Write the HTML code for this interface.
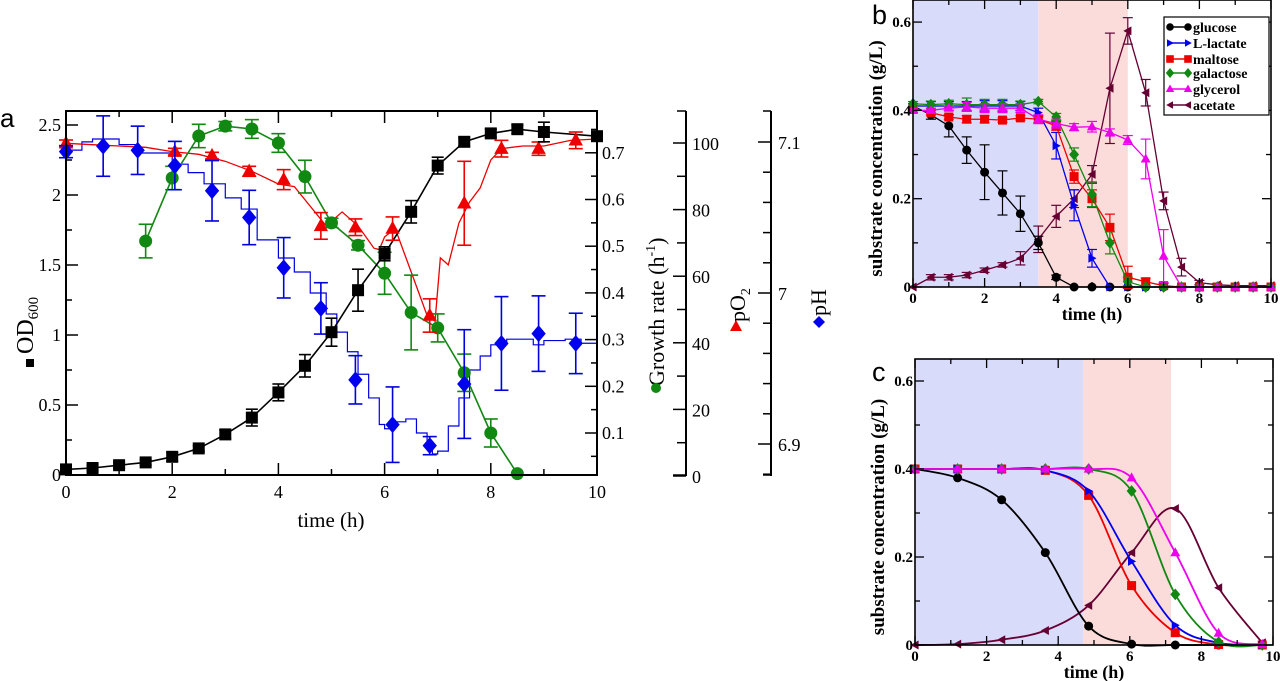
<!DOCTYPE html>
<html><head><meta charset="utf-8"><style>
html,body{margin:0;padding:0;background:#fff;}
svg{display:block;}
text{font-family:"Liberation Serif",serif;}
</style></head><body>
<svg id="fig" width="1280" height="681" viewBox="0 0 1280 681" xmlns="http://www.w3.org/2000/svg">
<g id="pa"></g>
<g id="pb"></g>
<g id="pc"></g>
</svg>
<script>
// ===== Panel a data =====
const odTime=[0,0.5,1,1.5,2,2.5,3,3.5,4,4.5,5,5.5,6,6.5,7,7.5,8,8.5,9,10];
const odVal=[0.04,0.05,0.07,0.09,0.13,0.19,0.29,0.41,0.59,0.78,1.02,1.32,1.58,1.88,2.21,2.38,2.44,2.47,2.45,2.42];
const odErr=[0.02,0.02,0.02,0.02,0.03,0.02,0.03,0.06,0.06,0.08,0.1,0.15,0.05,0.08,0.06,0.03,0.03,0.03,0.07,0.03];
const grTime=[1.5,2,2.5,3,3.5,4,4.5,5,5.5,6,6.5,7,7.5,8,8.5];
const grVal=[0.511,0.646,0.736,0.757,0.751,0.721,0.649,0.550,0.502,0.442,0.358,0.325,0.229,0.100,0.013];
const grErr=[0.036,0.025,0.025,0.01,0.02,0.02,0.035,0.01,0.01,0.045,0.08,0.03,0.04,0.03,0];
const po2MarkTime=[0,2.05,2.75,3.45,4.1,4.8,5.45,6.15,6.85,7.5,8.2,8.9,9.6];
const po2MarkVal=[99.9,97.4,96.2,91.5,89.0,75.1,74.7,74.3,48.2,81.9,98.3,98.3,100.8];
const po2MarkErr=[1,1,1,1.5,3,4,2.5,3.5,5,12.6,2.5,2,2.5];
const po2LineTime=[0,0.5,1,1.5,2,2.5,3,3.5,4,4.3,4.6,4.9,5.2,5.5,5.8,5.9,6.0,6.2,6.5,6.8,6.95,7.05,7.2,7.4,7.6,7.8,8.0,8.2,8.6,9,9.5,10];
const po2LineVal=[99.9,99.5,99.1,98.7,97.4,96.6,94.5,91.5,87.7,86.9,81.0,75.1,79.3,75.1,68.4,68.0,71.8,74.3,61.3,48.2,46.5,65.5,63.4,76.0,82.3,86.5,94.9,98.3,99.1,99.1,100.8,101.2];
const phMarkTime=[0,0.7,1.35,2.05,2.75,3.45,4.1,4.8,5.45,6.15,6.85,7.5,8.2,8.9,9.6];
const phMarkVal=[7.0936,7.0973,7.0945,7.0844,7.0677,7.0500,7.0167,6.9898,6.9425,6.9128,6.8989,6.9397,6.9666,6.9731,6.9666];
const phMarkErr=[0.004,0.02,0.016,0.016,0.02,0.018,0.02,0.017,0.016,0.025,0.006,0.036,0.031,0.025,0.02];
const phLineTime=[0,0.3,0.5,1,1.3,1.6,2,2.3,2.6,3,3.3,3.6,4,4.3,4.6,4.9,5.1,5.3,5.5,5.7,5.9,6.0,6.2,6.4,6.6,6.8,6.9,7.0,7.2,7.4,7.6,7.8,8.0,8.3,8.6,8.8,9.0,9.4,9.7,10];
const phLineVal=[7.0946,7.1001,7.1020,7.0983,7.0927,7.0927,7.0853,7.0797,7.0723,7.0630,7.0556,7.0352,7.0232,7.0139,7.0000,6.9861,6.9741,6.9611,6.9462,6.9305,6.9129,6.9101,6.9147,6.9166,6.9073,6.8999,6.8934,6.8953,6.9119,6.9305,6.9490,6.9583,6.9657,6.9694,6.9694,6.9657,6.9685,6.9694,6.9667,6.9676];
const aXTicks=[0,2,4,6,8,10];
const aYTicks=[0,0.5,1,1.5,2,2.5];
const aYTickLabels=['0','0.5','1','1.5','2','2.5'];
const grTicks=[0.1,0.2,0.3,0.4,0.5,0.6,0.7];
const po2Ticks=[0,20,40,60,80,100];
const phTicks=[6.9,7,7.1];

// ===== Panel b data =====
const bTime=[0,0.5,1,1.5,2,2.5,3,3.5,4,4.5,5,5.5,6,6.5,7,7.5,8,8.5,9,9.5,10];
const bGlucose=[0.41,0.39,0.365,0.31,0.26,0.213,0.166,0.10,0.022,0,0,0,0,0,0,0,0,0,0,0,0];
const bGlucoseErr=[0.005,0.01,0.025,0.03,0.062,0.05,0.04,0.015,0.005,0,0,0,0,0,0,0,0,0,0,0,0];
const bLactate=[0.41,0.41,0.41,0.41,0.41,0.41,0.41,0.395,0.32,0.185,0.065,0,0,0,0,0,0,0,0,0,0];
const bLactateErr=[0.005,0.01,0.01,0.01,0.012,0.012,0.01,0.01,0.03,0.035,0.02,0,0,0,0,0,0,0,0,0,0];
const bMaltose=[0.405,0.395,0.385,0.38,0.38,0.378,0.383,0.38,0.365,0.25,0.20,0.135,0.022,0.012,0.003,0,0,0,0,0,0];
const bMaltoseErr=[0.005,0.005,0.005,0.008,0.008,0.005,0.005,0.008,0.01,0.015,0.02,0.03,0.025,0.008,0.005,0,0,0,0,0,0];
const bGalactose=[0.415,0.413,0.415,0.413,0.413,0.413,0.413,0.42,0.385,0.30,0.21,0.10,0.012,0,0,0,0,0,0,0,0];
const bGalactoseErr=[0.005,0.008,0.008,0.015,0.012,0.012,0.008,0.005,0.008,0.015,0.028,0.025,0.01,0,0,0,0,0,0,0,0];
const bGlycerol=[0.40,0.40,0.405,0.408,0.405,0.405,0.405,0.38,0.37,0.362,0.363,0.35,0.333,0.29,0.07,0,0,0,0,0,0];
const bGlycerolErr=[0.005,0.005,0.005,0.01,0.01,0.01,0.01,0.01,0.01,0.008,0.012,0.008,0.01,0.045,0.06,0.003,0,0,0,0,0];
const bAcetate=[0,0.022,0.022,0.027,0.038,0.05,0.065,0.108,0.16,0.20,0.255,0.45,0.58,0.44,0.195,0.045,0.01,0.005,0.003,0.003,0.003];
const bAcetateErr=[0,0.006,0.006,0.006,0.005,0.005,0.015,0.03,0.025,0.02,0.02,0.125,0.03,0.03,0.02,0.02,0.005,0.003,0,0,0];

// ===== Panel c data =====
const cTime=[0,1.19,2.42,3.64,4.85,6.05,7.27,8.48,9.70];
const cGlucose=[0.40,0.38,0.33,0.21,0.043,0.002,0,0,0];
const cLactate=[0.40,0.40,0.40,0.397,0.35,0.19,0.045,0.005,0];
const cMaltose=[0.40,0.40,0.40,0.397,0.34,0.135,0.028,0.001,0];
const cGalactose=[0.40,0.40,0.40,0.40,0.40,0.35,0.115,0.007,0];
const cGlycerol=[0.40,0.40,0.40,0.40,0.40,0.38,0.21,0.027,0.001];
const cAcetate=[0,0.002,0.012,0.033,0.09,0.21,0.31,0.13,0.005];
const subTicksX=[0,2,4,6,8,10];
const subTicksY=[0,0.2,0.4,0.6];
const subTickLabelsY=['0','0.2','0.4','0.6'];

const NS='http://www.w3.org/2000/svg';
function mk(parent,tag,attrs){const e=document.createElementNS(NS,tag);for(const k in attrs)e.setAttribute(k,attrs[k]);parent.appendChild(e);return e;}
function txt(parent,x,y,s,attrs){const e=mk(parent,'text',Object.assign({x:x,y:y},attrs||{}));e.textContent=s;return e;}

function marker(g,shape,x,y,color,r){
  let e;
  if(shape==='square') e=mk(g,'rect',{x:x-r,y:y-r,width:2*r,height:2*r,fill:color});
  else if(shape==='circle') e=mk(g,'circle',{cx:x,cy:y,r:r,fill:color});
  else if(shape==='diamond') e=mk(g,'polygon',{points:`${x},${y-r*1.3} ${x+r*1.1},${y} ${x},${y+r*1.3} ${x-r*1.1},${y}`,fill:color});
  else if(shape==='up') e=mk(g,'polygon',{points:`${x},${y-r*1.2} ${x+r*1.1},${y+r*0.8} ${x-r*1.1},${y+r*0.8}`,fill:color});
  else if(shape==='right') e=mk(g,'polygon',{points:`${x+r},${y} ${x-r*0.8},${y-r} ${x-r*0.8},${y+r}`,fill:color});
  else if(shape==='left') e=mk(g,'polygon',{points:`${x-r},${y} ${x+r*0.8},${y-r} ${x+r*0.8},${y+r}`,fill:color});
  return e;
}
function errbar(g,x,y1,y2,color,w,cap){
  if(Math.abs(y2-y1)<1)return;
  mk(g,'line',{x1:x,y1:y1,x2:x,y2:y2,stroke:color,'stroke-width':w});
  mk(g,'line',{x1:x-cap,y1:y1,x2:x+cap,y2:y1,stroke:color,'stroke-width':w});
  mk(g,'line',{x1:x-cap,y1:y2,x2:x+cap,y2:y2,stroke:color,'stroke-width':w});
}
function polyPts(xs,ys,sx,sy){return xs.map((t,i)=>sx(t)+','+sy(ys[i])).join(' ');}

// ================= PANEL A =================
(function(){
const g=document.getElementById('pa');
const L=66,R=597,T=111,B=475;
const sx=t=>L+(t/10)*(R-L);
const sy=v=>B-(v/2.6)*(B-T);
const sgr=v=>433-(v-0.1)*467;
const spo=v=>476-v*3.33;
const sph=v=>293-(v-7)*1510;
const lbl=txt(g,0,127,'a',{style:'font-family:"Liberation Sans",sans-serif;font-size:26px'});


let d='';phLineTime.forEach((t,i)=>{const x=sx(t),y=sph(phLineVal[i]);if(i===0)d+=`M${x},${y}`;else d+=`H${x}V${y}`;});
const phl=mk(g,'path',{d:d,fill:'none',stroke:'#0000dd','stroke-width':1.2});

const pol=mk(g,'polyline',{points:polyPts(po2LineTime,po2LineVal,sx,spo),fill:'none',stroke:'#ee0000','stroke-width':1.3});

const grl=mk(g,'polyline',{points:polyPts(grTime,grVal,sx,sgr),fill:'none',stroke:'#118811','stroke-width':1.6});

const odl=mk(g,'polyline',{points:polyPts(odTime,odVal,sx,sy),fill:'none',stroke:'#000','stroke-width':1.6});


grTime.forEach((t,i)=>{const x=sx(t);errbar(g,x,sgr(grVal[i]-grErr[i]),sgr(grVal[i]+grErr[i]),'#118811',1.6,7);
  const m=marker(g,'circle',x,sgr(grVal[i]),'#118811',6.5);});
po2MarkTime.forEach((t,i)=>{const x=sx(t);errbar(g,x,spo(po2MarkVal[i]-po2MarkErr[i]),spo(po2MarkVal[i]+po2MarkErr[i]),'#ee0000',1.6,7);
  const m=marker(g,'up',x,spo(po2MarkVal[i]),'#ee0000',6.5);});
phMarkTime.forEach((t,i)=>{const x=sx(t);errbar(g,x,sph(phMarkVal[i]-phMarkErr[i]),sph(phMarkVal[i]+phMarkErr[i]),'#0000dd',1.6,7);
  const m=marker(g,'diamond',x,sph(phMarkVal[i]),'#0000ee',6.5);});
odTime.forEach((t,i)=>{const x=sx(t);errbar(g,x,sy(odVal[i]-odErr[i]),sy(odVal[i]+odErr[i]),'#000',1.6,6);
  const m=marker(g,'square',x,sy(odVal[i]),'#000',6);});

const fr=mk(g,'rect',{x:L,y:T,width:R-L,height:B-T,fill:'none',stroke:'#000','stroke-width':2});

for(let t=0;t<=10;t+=1){const x=sx(t);const len=(t%2===0)?12:6;
  mk(g,'line',{x1:x,y1:B,x2:x,y2:B-len,stroke:'#000','stroke-width':1.5});
  mk(g,'line',{x1:x,y1:T,x2:x,y2:T+len,stroke:'#000','stroke-width':1.5});}
aXTicks.forEach(t=>{const e=txt(g,sx(t),498,String(t),{'font-size':18,'text-anchor':'middle'});});
for(let v=0;v<=2.5001;v+=0.25){const y=sy(v);const len=(Math.round(v*4)%2===0)?12:6;
  mk(g,'line',{x1:L,y1:y,x2:L+len,y2:y,stroke:'#000','stroke-width':1.5});}
aYTicks.forEach((v,i)=>{const e=txt(g,L-5,sy(v)+6,aYTickLabels[i],{'font-size':18,'text-anchor':'end'});});
for(let k=1;k<=15;k++){const v=k*0.05;const y=sgr(v);if(y<T+2||y>B-2)continue;const len=(k%2===0)?12:6;
  mk(g,'line',{x1:R,y1:y,x2:R-len,y2:y,stroke:'#000','stroke-width':1.5});}
grTicks.forEach(v=>{const e=txt(g,R+5,sgr(v)+6,v.toFixed(1),{'font-size':18});});
const PX=686;
mk(g,'line',{x1:PX,y1:T,x2:PX,y2:B+1,stroke:'#000','stroke-width':2});
for(let v=0;v<=100;v+=10){const y=spo(v);const len=(v%20===0)?13:9;mk(g,'line',{x1:PX,y1:y,x2:PX-len,y2:y,stroke:'#000','stroke-width':1.5});}
mk(g,'line',{x1:PX,y1:T,x2:PX-9,y2:T,stroke:'#000','stroke-width':1.5});
mk(g,'line',{x1:PX,y1:B,x2:PX-13,y2:B,stroke:'#000','stroke-width':1.5});
po2Ticks.forEach(v=>{const e=txt(g,PX+6,spo(v)+7,String(v),{'font-size':18});});
const HX=771;
mk(g,'line',{x1:HX,y1:T,x2:HX,y2:B+1,stroke:'#000','stroke-width':2});
for(let k=0;k<=12;k++){const v=6.86+k*0.02;const y=sph(v);if(y<T-1||y>B+1)continue;const maj=Math.abs(((v-6.9)/0.1)-Math.round((v-6.9)/0.1))<0.01;const len=maj?13:8;
  mk(g,'line',{x1:HX,y1:y,x2:HX-len,y2:y,stroke:'#000','stroke-width':1.5});}
mk(g,'line',{x1:HX,y1:T,x2:HX-8,y2:T,stroke:'#000','stroke-width':1.5});
mk(g,'line',{x1:HX,y1:B,x2:HX-8,y2:B,stroke:'#000','stroke-width':1.5});
phTicks.forEach(v=>{const e=txt(g,HX+7,sph(v)+7,String(v),{'font-size':18});});

const xt=txt(g,331,527,'time (h)',{'font-size':21,'text-anchor':'middle'});
const yg=mk(g,'g',{transform:'translate(33,300) rotate(-90)'});
mk(yg,'rect',{x:-67,y:-7,width:8,height:8,fill:'#000'});
const yt=txt(yg,-54,0,'OD',{'font-size':24});const sub=mk(yt,'tspan',{'font-size':15,dy:5});sub.textContent='600';
const gg=mk(g,'g',{transform:'translate(664,300) rotate(-90)'});
const gt=txt(gg,-86,0,'Growth rate (h',{'font-size':22});const sup=mk(gt,'tspan',{'font-size':14,dy:-9});sup.textContent='-1';const cl=mk(gt,'tspan',{'font-size':22,dy:9});cl.textContent=')';
mk(g,'circle',{cx:656,cy:388,r:5,fill:'#118811'});
const pg=mk(g,'g',{transform:'translate(745,300) rotate(-90)'});
const pt=txt(pg,-22,0,'pO',{'font-size':22});const ps=mk(pt,'tspan',{'font-size':14,dy:5});ps.textContent='2';
mk(g,'polygon',{points:'736,320 742,331 730,331',fill:'#ee0000'});
const hg=mk(g,'g',{transform:'translate(826,300) rotate(-90)'});
txt(hg,-16,0,'pH',{'font-size':22});
mk(g,'polygon',{points:'819,316 825,322 819,328 813,322',fill:'#0000ee'});
})();

// ================= Panels b and c =================
const series=[
 {name:'glucose',color:'#000000',shape:'circle'},
 {name:'L-lactate',color:'#0000ee',shape:'right'},
 {name:'maltose',color:'#ee0000',shape:'square'},
 {name:'galactose',color:'#118811',shape:'diamond'},
 {name:'glycerol',color:'#ee00ee',shape:'up'},
 {name:'acetate',color:'#660033',shape:'left'}
];
function axesSub(g,L,R,T,B,ymax,shade,sx,sy){
  mk(g,'rect',{x:L,y:T,width:sx(shade[0])-L,height:B-T,fill:'#d9dbfb'});
  mk(g,'rect',{x:sx(shade[0]),y:T,width:sx(shade[1])-sx(shade[0]),height:B-T,fill:'#fbdcda'});
}
function frameSub(g,L,R,T,B,sx,sy,ymax){
  mk(g,'rect',{x:L,y:T,width:R-L,height:B-T,fill:'none',stroke:'#000','stroke-width':1.6});
  for(let t=0;t<=10;t+=1){const x=sx(t);const len=(t%2===0)?9:5;
    mk(g,'line',{x1:x,y1:B,x2:x,y2:B-len,stroke:'#000','stroke-width':1.3});
    mk(g,'line',{x1:x,y1:T,x2:x,y2:T+len,stroke:'#000','stroke-width':1.3});}
  for(let k=0;k<=6;k++){const y=sy(k*0.1);const len=(k%2===0)?9:5;
    mk(g,'line',{x1:L,y1:y,x2:L+len,y2:y,stroke:'#000','stroke-width':1.3});
    mk(g,'line',{x1:R,y1:y,x2:R-len,y2:y,stroke:'#000','stroke-width':1.3});}
  subTicksX.forEach(t=>{const e=txt(g,sx(t),B+16,String(t),{'font-size':15,'font-weight':'bold','text-anchor':'middle'});});
  subTicksY.forEach((v,i)=>{const e=txt(g,L-2,sy(v)+5,subTickLabelsY[i],{'font-size':15,'font-weight':'bold','text-anchor':'end'});});
  const xt=txt(g,(L+R)/2,B+33,'time (h)',{'font-size':18,'font-weight':'bold','text-anchor':'middle'});
  const yg=mk(g,'g',{transform:`translate(${L-31},${(T+B)/2+15}) rotate(-90)`});
  txt(yg,0,0,'substrate concentration (g/L)',{'font-size':19,'font-weight':'bold','text-anchor':'middle'});
}
function catmull(xs,ys){let d=`M${xs[0]},${ys[0]}`;for(let i=0;i<xs.length-1;i++){const x0=xs[Math.max(0,i-1)],y0=ys[Math.max(0,i-1)],x1=xs[i],y1=ys[i],x2=xs[i+1],y2=ys[i+1],x3=xs[Math.min(xs.length-1,i+2)],y3=ys[Math.min(xs.length-1,i+2)];
  d+=` C${x1+(x2-x0)/6},${y1+(y2-y0)/6} ${x2-(x3-x1)/6},${y2-(y3-y1)/6} ${x2},${y2}`;}return d;}

(function(){
const g=document.getElementById('pb');
const L=913,R=1271,T=0,B=287;
const sx=t=>L+(t/10)*(R-L);
const sy=v=>B-(v/0.65)*(B-T);
axesSub(g,L,R,T,B,0.65,[3.5,6],sx,sy);
const vals=[bGlucose,bLactate,bMaltose,bGalactose,bGlycerol,bAcetate];
const errs=[bGlucoseErr,bLactateErr,bMaltoseErr,bGalactoseErr,bGlycerolErr,bAcetateErr];
[5,0,1,2,3,4].forEach(si=>{const s=series[si];const sg=mk(g,'g',{});
  mk(sg,'polyline',{points:polyPts(bTime,vals[si],sx,sy),fill:'none',stroke:s.color,'stroke-width':1.3});
  bTime.forEach((t,i)=>{const v=vals[si][i],e=errs[si][i];errbar(sg,sx(t),sy(v-e),sy(v+e),s.color,1.2,5);
    const m=marker(sg,s.shape,sx(t),sy(v),s.color,4.5);});
});
frameSub(g,L,R,T,B,sx,sy,0.65);
const bl=txt(g,872,24,'b',{style:'font-family:"Liberation Sans",sans-serif;font-size:27px'});
const lg=mk(g,'g',{});
mk(lg,'rect',{x:1164,y:17,width:105,height:98,fill:'#fff',stroke:'#000','stroke-width':1.2});
const ly=[27,43,59,73,89,105];
series.forEach((s,i)=>{const eg=mk(lg,'g',{});
  mk(eg,'line',{x1:1170,y1:ly[i],x2:1188,y2:ly[i],stroke:s.color,'stroke-width':1.5});
  marker(eg,s.shape,1170,ly[i],s.color,3.8);marker(eg,s.shape,1188,ly[i],s.color,3.8);
  txt(eg,1193,ly[i]+5,s.name,{'font-size':14,'font-weight':'bold'});});
})();

(function(){
const g=document.getElementById('pc');
const L=915,R=1273,T=359,B=645;
const sx=t=>L+(t/10)*(R-L);
const sy=v=>B-(v/0.65)*(B-T);
axesSub(g,L,R,T,B,0.65,[4.7,7.15],sx,sy);
const vals=[cGlucose,cLactate,cMaltose,cGalactose,cGlycerol,cAcetate];
[5,0,2,1,3,4].forEach(si=>{const s=series[si];const sg=mk(g,'g',{});
  const xs=cTime.map(sx),ys=vals[si].map(sy);
  mk(sg,'path',{d:catmull(xs,ys),fill:'none',stroke:s.color,'stroke-width':1.8});
  cTime.forEach((t,i)=>{const m=marker(sg,s.shape,sx(t),sy(vals[si][i]),s.color,4.5);});
});
frameSub(g,L,R,T,B,sx,sy,0.65);
const cl=txt(g,872,381,'c',{style:'font-family:"Liberation Sans",sans-serif;font-size:27px'});
})();
</script>
</body></html>
